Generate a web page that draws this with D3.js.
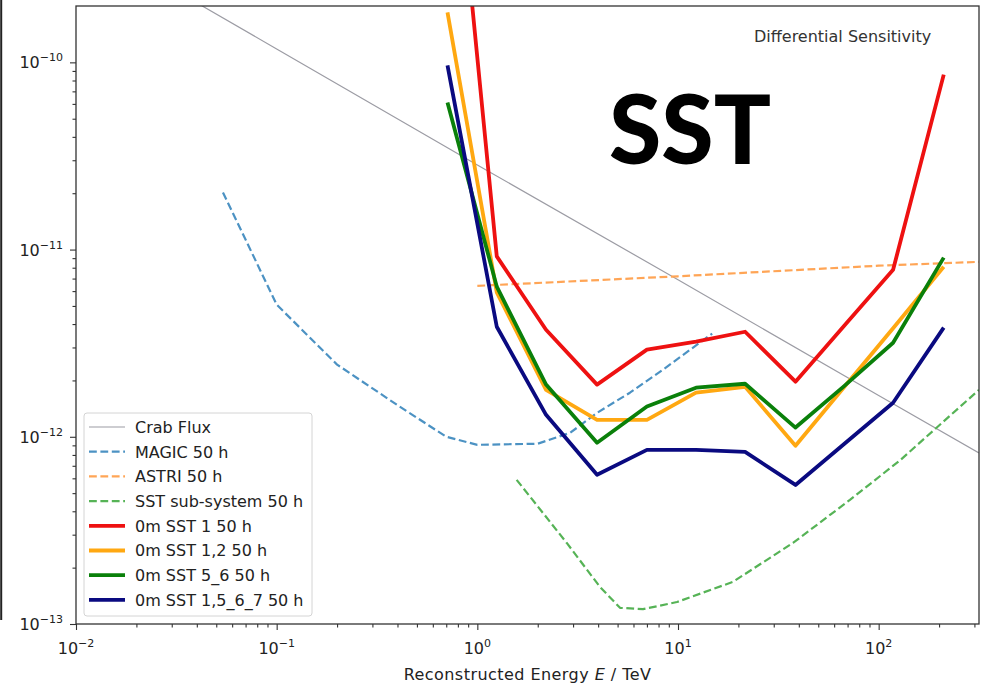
<!DOCTYPE html>
<html>
<head>
<meta charset="utf-8">
<script src="https://cdn.jsdelivr.net/npm/d3@7"></script>
<style>
  html, body { margin: 0; padding: 0; background: #fff; }
  svg { display: block; font-family: "DejaVu Sans", sans-serif; }
</style>
</head>
<body>
<svg id="chart" width="984" height="687"></svg>
<script>
// Energy bins (TeV) shared by the SST configurations
const energies = [0.71, 1.25, 2.2, 3.95, 7.0, 12.3, 21.6, 38.5, 67.5, 118, 211];

// Differential sensitivity per configuration (erg cm^-2 s^-1)
const sst1 = [4.5e-9, 9.2e-12, 3.73e-12, 1.9e-12, 2.92e-12, 3.22e-12, 3.64e-12, 1.97e-12, 3.93e-12, 7.8e-12, 8.6e-11];
const sst12 = [1.85e-10, 5.9e-12, 1.78e-12, 1.23e-12, 1.23e-12, 1.72e-12, 1.85e-12, 8.95e-13, 1.85e-12, 3.8e-12, 8.1e-12];
const sst56 = [6.1e-11, 6.34e-12, 1.9e-12, 9.3e-13, 1.45e-12, 1.83e-12, 1.92e-12, 1.12e-12, 1.87e-12, 3.18e-12, 9.06e-12];
const sst1567 = [9.64e-11, 3.87e-12, 1.31e-12, 6.27e-13, 8.51e-13, 8.51e-13, 8.3e-13, 5.53e-13, 9.18e-13, 1.52e-12, 3.83e-12];

// Reference curves: [energy, flux]
const crabFlux = [[0.01, 4.9e-10], [0.1, 1.18e-10], [1, 2.83e-11], [10, 6.9e-12], [100, 1.66e-12], [316, 8.2e-13]];
const magic50h = [[0.054, 2.02e-11], [0.1, 5.08e-12], [0.2, 2.43e-12], [0.41, 1.45e-12], [0.7, 1.0e-12],
                  [1.0, 9.06e-13], [2.0, 9.18e-13], [2.9, 1.05e-12], [3.94, 1.34e-12], [5.76, 1.72e-12],
                  [8.4, 2.28e-12], [14.8, 3.56e-12]];
const astri50h = [[1.0, 6.4e-12], [10, 7.2e-12], [100, 8.2e-12], [316, 8.6e-12]];
const sstSub50h = [[1.57, 5.89e-13], [2.79, 2.71e-13], [4.08, 1.58e-13], [5.14, 1.22e-13], [6.69, 1.2e-13],
                   [9.88, 1.31e-13], [18.8, 1.68e-13], [37.4, 2.71e-13], [71.9, 4.6e-13], [128, 7.5e-13],
                   [316, 1.78e-12]];

// Axis ticks
const xMajor = [-2, -1, 0, 1, 2];
const yMajor = [-13, -12, -11, -10];

const legendLabels = ["Crab Flux", "MAGIC 50 h", "ASTRI 50 h", "SST sub-system 50 h",
                      "0m SST 1 50 h", "0m SST 1,2 50 h", "0m SST 5_6 50 h", "0m SST 1,5_6_7 50 h"];

const styles = [
  { color: "#9c9ca4", width: 1.2, dash: null },
  { color: "#4c92c3", width: 2.2, dash: "7.8,3.6" },
  { color: "#ffa556", width: 2.2, dash: "7.8,3.6" },
  { color: "#56b356", width: 2.2, dash: "7.8,3.6" },
  { color: "#ee1111", width: 3.8, dash: null },
  { color: "#ffa811", width: 3.8, dash: null },
  { color: "#0a800a", width: 3.8, dash: null },
  { color: "#0a0a80", width: 3.8, dash: null }
];

const svg = d3.select("#chart");
const plotLeft = 76, plotRight = 979, plotTop = 6, plotBottom = 624;

const x = d3.scaleLog().domain([0.01, Math.pow(10, 2.5)]).range([plotLeft, plotRight]);
const y = d3.scaleLog().domain([1e-13, 2e-10]).range([plotBottom, plotTop]);

// Thin dark rule along the left border of the figure
svg.append("line").attr("x1", 1.2).attr("x2", 1.2).attr("y1", 0).attr("y2", 620)
  .attr("stroke", "#222").attr("stroke-width", 2);

svg.append("clipPath").attr("id", "plotClip")
  .append("rect").attr("x", plotLeft).attr("y", plotTop)
  .attr("width", plotRight - plotLeft).attr("height", plotBottom - plotTop);

const series = [
  crabFlux,
  magic50h,
  astri50h,
  sstSub50h,
  energies.map((e, i) => [e, sst1[i]]),
  energies.map((e, i) => [e, sst12[i]]),
  energies.map((e, i) => [e, sst56[i]]),
  energies.map((e, i) => [e, sst1567[i]])
];

const line = d3.line().x(d => x(d[0])).y(d => y(d[1]));
const plot = svg.append("g").attr("clip-path", "url(#plotClip)");
series.forEach((s, i) => {
  plot.append("path")
    .attr("d", line(s))
    .attr("fill", "none")
    .attr("stroke", styles[i].color)
    .attr("stroke-width", styles[i].width)
    .attr("stroke-dasharray", styles[i].dash)
    .attr("stroke-linejoin", "round");
});

// Minor ticks (2..9 of each decade)
function minorTicks(scale) {
  const [a, b] = scale.domain();
  const out = [];
  for (let p = Math.floor(Math.log10(a)); p <= Math.ceil(Math.log10(b)); p++) {
    for (let m = 2; m <= 9; m++) {
      const v = m * Math.pow(10, p);
      if (v > a * 1.0001 && v < b * 0.9999) out.push(v);
    }
  }
  return out;
}

const axisColor = "#333";
const xAxis = svg.append("g").attr("transform", `translate(0,${plotBottom})`);
xAxis.call(d3.axisBottom(x).tickValues(xMajor.map(p => Math.pow(10, p))).tickFormat("").tickSize(6));
xAxis.append("g").call(d3.axisBottom(x).tickValues(minorTicks(x)).tickFormat("").tickSize(3.5));
const yAxis = svg.append("g").attr("transform", `translate(${plotLeft},0)`);
yAxis.call(d3.axisLeft(y).tickValues(yMajor.map(p => Math.pow(10, p))).tickFormat("").tickSize(6));
yAxis.append("g").call(d3.axisLeft(y).tickValues(minorTicks(y)).tickFormat("").tickSize(3.5));
svg.selectAll(".domain").remove();
svg.selectAll(".tick line").attr("stroke", axisColor).attr("stroke-width", 1.1);

// Frame
svg.append("rect").attr("x", plotLeft).attr("y", plotTop)
  .attr("width", plotRight - plotLeft).attr("height", plotBottom - plotTop)
  .attr("fill", "none").attr("stroke", axisColor).attr("stroke-width", 1.3);

// Power-of-ten tick labels
function powLabel(g, p) {
  g.append("tspan").text("10");
  g.append("tspan").attr("dy", -7).attr("font-size", 11).text(p < 0 ? "\u2212" + (-p) : String(p));
}
xMajor.forEach(p => {
  const t = svg.append("text").attr("x", x(Math.pow(10, p))).attr("y", 654)
    .attr("text-anchor", "middle").attr("font-size", 16).attr("fill", "#222");
  powLabel(t, p);
});
yMajor.forEach(p => {
  const t = svg.append("text").attr("x", 63).attr("y", y(Math.pow(10, p)) + 6)
    .attr("text-anchor", "end").attr("font-size", 16).attr("fill", "#222");
  powLabel(t, p);
});

// Axis title
const xt = svg.append("text").attr("x", (plotLeft + plotRight) / 2).attr("y", 680)
  .attr("text-anchor", "middle").attr("font-size", 16).attr("letter-spacing", 0.45).attr("fill", "#222");
xt.append("tspan").text("Reconstructed Energy ");
xt.append("tspan").attr("font-style", "italic").text("E");
xt.append("tspan").text(" / TeV");

// Annotations
svg.append("text").attr("x", 754).attr("y", 42).attr("font-size", 16).attr("fill", "#333")
  .text("Differential Sensitivity");
svg.append("text").attr("x", 609).attr("y", 164).attr("font-family", "Lato").attr("font-weight", 900)
  .attr("font-size", 95).attr("fill", "#000").text("SST");

// Legend
const lg = svg.append("g");
lg.append("rect").attr("x", 84).attr("y", 413).attr("width", 228).attr("height", 203)
  .attr("rx", 3).attr("fill", "#fff").attr("fill-opacity", 0.85).attr("stroke", "#d4d4d4");
legendLabels.forEach((lab, i) => {
  const cy = 427 + i * 24.7;
  lg.append("line").attr("x1", 89).attr("x2", 125).attr("y1", cy).attr("y2", cy)
    .attr("stroke", styles[i].color).attr("stroke-width", styles[i].width)
    .attr("stroke-dasharray", styles[i].dash);
  lg.append("text").attr("x", 135).attr("y", cy + 5.8).attr("font-size", 16).attr("fill", "#222").text(lab);
});
</script>
</body>
</html>
